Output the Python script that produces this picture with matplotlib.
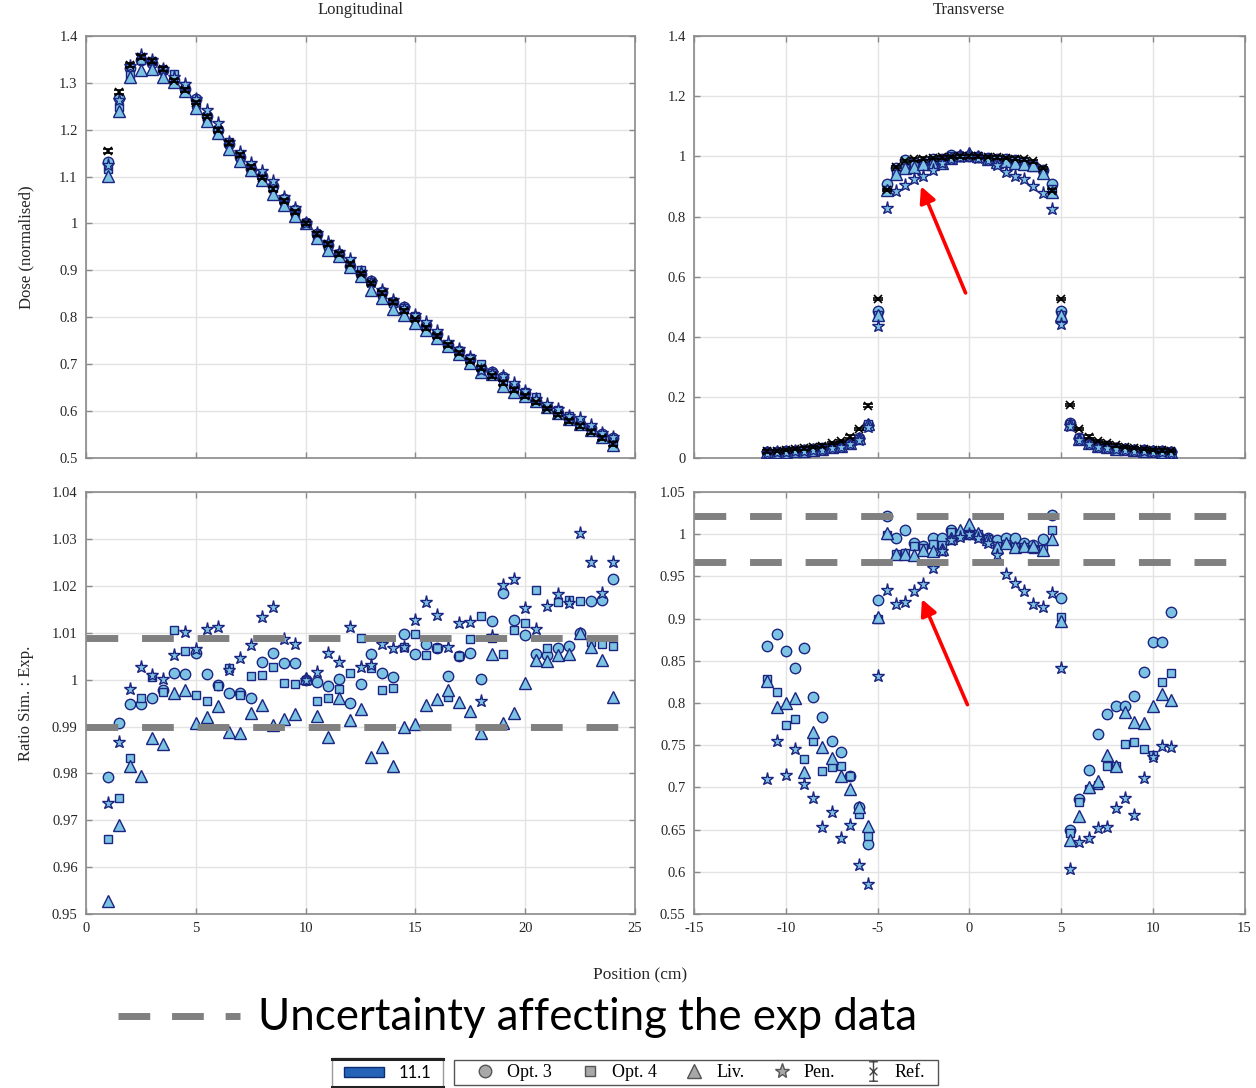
import matplotlib
matplotlib.use("Agg")
import matplotlib.pyplot as plt
import numpy as np
from matplotlib.lines import Line2D
from matplotlib.patches import Patch, Rectangle
from matplotlib.path import Path
from matplotlib.ticker import FuncFormatter, MultipleLocator

# ---------------- DATA ----------------
# Longitudinal profile
long_x = [1.0, 1.5, 2.0, 2.5, 3.0, 3.5, 4.0, 4.5, 5.0, 5.5, 6.0, 6.5, 7.0, 7.5, 8.0,
          8.5, 9.0, 9.5, 10.0, 10.5, 11.0, 11.5, 12.0, 12.5, 13.0, 13.5, 14.0, 14.5,
          15.0, 15.5, 16.0, 16.5, 17.0, 17.5, 18.0, 18.5, 19.0, 19.5, 20.0, 20.5,
          21.0, 21.5, 22.0, 22.5, 23.0, 23.5, 24.0]
long_ref = [1.155, 1.280, 1.338, 1.355, 1.347, 1.330, 1.305, 1.285, 1.258, 1.228,
            1.200, 1.172, 1.146, 1.121, 1.098, 1.073, 1.048, 1.024, 1.000, 0.977,
            0.956, 0.935, 0.914, 0.893, 0.872, 0.852, 0.832, 0.813, 0.795, 0.777,
            0.759, 0.741, 0.724, 0.707, 0.691, 0.675, 0.660, 0.645, 0.632, 0.618,
            0.605, 0.592, 0.579, 0.567, 0.555, 0.542, 0.530]
long_ratio_opt3 = [0.9793, 0.9907, 0.9948, 0.9948, 0.9961, 0.9979, 1.0015, 1.0013, 1.0056,
                   1.0013, 0.9988, 0.9972, 0.9972, 0.9961, 1.0038, 1.0058, 1.0036, 1.0036,
                   1.0000, 0.9995, 0.9986, 1.0001, 0.9951, 0.9991, 1.0054, 1.0015, 1.0006,
                   1.0097, 1.0054, 1.0077, 1.0068, 1.0008, 1.0051, 1.0056, 1.0001, 1.0126,
                   1.0185, 1.0128, 1.0095, 1.0054, 1.0053, 1.0068, 1.0072, 1.0100, 1.0168,
                   1.0171, 1.0214]
long_ratio_opt4 = [0.9661, 0.9747, 0.9834, 0.9960, 1.0005, 0.9974, 1.0107, 1.0062, 0.9967,
                   0.9954, 0.9986, 1.0024, 0.9967, 1.0008, 1.0011, 1.0027, 0.9994, 0.9990,
                   1.0000, 0.9955, 0.9961, 0.9981, 1.0015, 1.0089, 1.0025, 0.9979, 0.9983,
                   1.0070, 1.0098, 1.0052, 1.0067, 0.9963, 1.0051, 1.0086, 1.0136, 1.0090,
                   1.0054, 1.0107, 1.0120, 1.0192, 1.0067, 1.0166, 1.0171, 1.0168, 1.0081,
                   1.0077, 1.0073]
long_ratio_liv = [0.9528, 0.9691, 0.9816, 0.9795, 0.9876, 0.9863, 0.9971, 0.9978, 0.9908,
                  0.9921, 0.9944, 0.9889, 0.9887, 0.9929, 0.9946, 0.9903, 0.9917, 0.9926,
                  1.0003, 0.9923, 0.9878, 0.9960, 0.9915, 0.9937, 0.9835, 0.9857, 0.9816,
                  0.9899, 0.9905, 0.9946, 0.9958, 0.9979, 0.9953, 0.9933, 0.9887, 1.0054,
                  0.9908, 0.9929, 0.9993, 1.0043, 1.0039, 1.0053, 1.0054, 1.0100, 1.0070,
                  1.0042, 0.9963]
long_ratio_pen = [0.9737, 0.9867, 0.9981, 1.0027, 1.0010, 1.0001, 1.0052, 1.0102, 1.0065,
                  1.0108, 1.0113, 1.0020, 1.0047, 1.0074, 1.0134, 1.0155, 1.0086, 1.0077,
                  1.0000, 1.0017, 1.0056, 1.0038, 1.0113, 1.0027, 1.0032, 1.0077, 1.0067,
                  1.0070, 1.0127, 1.0165, 1.0138, 1.0070, 1.0121, 1.0123, 0.9954, 1.0093,
                  1.0202, 1.0214, 1.0154, 1.0109, 1.0157, 1.0184, 1.0164, 1.0313, 1.0251,
                  1.0185, 1.0251]

# Transverse profile
trans_x = [-11.0, -10.5, -10.0, -9.5, -9.0, -8.5, -8.0, -7.5, -7.0, -6.5, -6.0, -5.5,
           -5.0, -4.5, -4.0, -3.5, -3.0, -2.5, -2.0, -1.5, -1.0, -0.5, 0.0, 0.5, 1.0,
           1.5, 2.0, 2.5, 3.0, 3.5, 4.0, 4.5, 5.0, 5.5, 6.0, 6.5, 7.0, 7.5, 8.0, 8.5,
           9.0, 9.5, 10.0, 10.5, 11.0]
trans_ref = [0.021, 0.023, 0.025, 0.028, 0.031, 0.035, 0.040, 0.048, 0.056, 0.070, 0.095,
             0.173, 0.527, 0.889, 0.965, 0.985, 0.990, 0.993, 0.995, 0.997, 0.999, 1.000,
             1.000, 1.000, 0.999, 0.997, 0.995, 0.993, 0.990, 0.984, 0.962, 0.887, 0.527,
             0.175, 0.095, 0.070, 0.056, 0.048, 0.041, 0.036, 0.032, 0.029, 0.026, 0.024,
             0.022]
trans_ratio_opt3 = [0.867, 0.882, 0.862, 0.842, 0.865, 0.807, 0.783, 0.755, 0.742, 0.713,
                    0.677, 0.633, 0.922, 1.022, 0.995, 1.005, 0.989, 0.986, 0.996, 0.996,
                    1.005, 1.000, 1.000, 0.998, 0.996, 0.993, 0.995, 0.995, 0.990, 0.987,
                    0.994, 1.023, 0.925, 0.650, 0.686, 0.721, 0.763, 0.787, 0.796, 0.796,
                    0.808, 0.837, 0.872, 0.872, 0.908]
trans_ratio_opt4 = [0.829, 0.813, 0.774, 0.781, 0.734, 0.755, 0.719, 0.724, 0.725, 0.713,
                    0.668, 0.642, 0.900, 0.999, 0.977, 0.978, 0.986, 0.984, 0.988, 0.987,
                    1.003, 0.998, 0.999, 1.000, 0.994, 0.986, 0.988, 0.985, 0.985, 0.982,
                    0.983, 1.005, 0.902, 0.646, 0.683, 0.698, 0.703, 0.725, 0.725, 0.751,
                    0.754, 0.746, 0.738, 0.825, 0.835]
trans_ratio_liv = [0.826, 0.795, 0.800, 0.806, 0.718, 0.766, 0.748, 0.735, 0.713, 0.698,
                   0.677, 0.654, 0.902, 1.001, 0.977, 0.977, 0.975, 0.981, 0.980, 0.982,
                   0.996, 1.005, 1.012, 1.002, 0.994, 0.985, 0.990, 0.985, 0.986, 0.986,
                   0.981, 0.994, 0.897, 0.638, 0.666, 0.700, 0.707, 0.738, 0.725, 0.789,
                   0.778, 0.776, 0.796, 0.811, 0.804]
trans_ratio_pen = [0.710, 0.755, 0.715, 0.746, 0.704, 0.688, 0.653, 0.671, 0.640, 0.655,
                   0.608, 0.586, 0.832, 0.934, 0.917, 0.920, 0.933, 0.941, 0.960, 0.980,
                   0.993, 0.997, 1.000, 0.995, 0.990, 0.975, 0.953, 0.942, 0.933, 0.917,
                   0.914, 0.930, 0.841, 0.603, 0.635, 0.640, 0.652, 0.653, 0.676, 0.688,
                   0.667, 0.711, 0.736, 0.749, 0.748]

# uncertainty bands affecting the experimental data
long_unc = [1.009, 0.990]
trans_unc = [1.0215, 0.9675]

series_names = ["Opt. 3", "Opt. 4", "Liv.", "Pen.", "Ref."]
version_label = "11.1"

# ---------------- STYLE ----------------
SERIF = ["Liberation Serif", "DejaVu Serif"]
FILL = "#7cc3e3"
EDGE = "#1b2580"
GRID = "#e3e3e3"
SPINE = "#8a8a8a"
UNC = "#808080"

styles = [
    dict(marker="o", ms=7.5),
    dict(marker="s", ms=5.5),
    dict(marker="^", ms=8),
    dict(marker="*", ms=9.5),
]

fig = plt.figure(figsize=(12.56, 10.88), dpi=100)
W, H = 1256.0, 1088.0


def ax_at(left, top, right, bottom):
    return fig.add_axes([left / W, 1 - bottom / H, (right - left) / W, (bottom - top) / H])


axTL = ax_at(86, 36, 635, 457.7)
axTR = ax_at(694, 36, 1244.5, 457.7)
axBL = ax_at(86, 492.3, 635, 914)
axBR = ax_at(694, 492, 1244.5, 914)

fmt = FuncFormatter(lambda v, p: "%g" % round(v, 4))


def style_axes(ax, xlim, xstep, ylim, ystep, show_x):
    ax.set_xlim(*xlim)
    ax.set_ylim(*ylim)
    ax.xaxis.set_major_locator(MultipleLocator(xstep))
    ax.yaxis.set_major_locator(MultipleLocator(ystep))
    ax.yaxis.set_major_formatter(fmt)
    ax.xaxis.set_major_formatter(fmt)
    ax.grid(True, color=GRID, lw=1.0, zorder=0)
    ax.set_axisbelow(True)
    for s in ax.spines.values():
        s.set_color(SPINE)
        s.set_linewidth(1.2)
    ax.tick_params(direction="in", top=True, right=True, length=4, width=1,
                   color=SPINE, labelsize=10.5, labelcolor="#262626", pad=6)
    for lab in ax.get_xticklabels() + ax.get_yticklabels():
        lab.set_family(SERIF)
    if not show_x:
        ax.tick_params(labelbottom=False)


def draw_series(ax, x, ref, ratios, top, yerr):
    for st, r in zip(styles, ratios):
        y = np.array(ref) * np.array(r) if top else np.array(r)
        ax.plot(x, y, ls="none", marker=st["marker"], ms=st["ms"], mfc=FILL,
                mec=EDGE, mew=1.0, zorder=3)
    if top:
        ax.errorbar(x, ref, yerr=yerr, fmt="x", color="black", ms=6, mew=1.2,
                    elinewidth=1.0, capsize=3.5, capthick=1.2, zorder=5)


long_ratios = [long_ratio_opt3, long_ratio_opt4, long_ratio_liv, long_ratio_pen]
trans_ratios = [trans_ratio_opt3, trans_ratio_opt4, trans_ratio_liv, trans_ratio_pen]

draw_series(axTL, long_x, long_ref, long_ratios, True, 0.004)
draw_series(axTR, trans_x, trans_ref, trans_ratios, True, 0.004)
draw_series(axBL, long_x, long_ref, long_ratios, False, None)
draw_series(axBR, trans_x, trans_ref, trans_ratios, False, None)

for ax, levels in ((axBL, long_unc), (axBR, trans_unc)):
    for lv in levels:
        ax.axhline(lv, color=UNC, lw=5.0, dashes=(32 / 7.0, 24 / 7.0), zorder=6,
                   solid_capstyle="butt", dash_capstyle="butt")

style_axes(axTL, (0, 25), 5, (0.5, 1.4), 0.1, False)
style_axes(axTR, (-15, 15), 5, (0, 1.4), 0.2, False)
style_axes(axBL, (0, 25), 5, (0.95, 1.04), 0.01, True)
style_axes(axBR, (-15, 15), 5, (0.55, 1.05), 0.05, True)

axTL.set_title("Longitudinal", family=SERIF, fontsize=12, pad=16, color="#262626")
axTR.set_title("Transverse", family=SERIF, fontsize=12, pad=16, color="#262626")
axTL.set_ylabel("Dose (normalised)", family=SERIF, fontsize=12, labelpad=18, color="#262626")
axBL.set_ylabel("Ratio Sim. : Exp.", family=SERIF, fontsize=12, labelpad=13, color="#262626")

# red arrows
arrow_kw = dict(arrowstyle="-|>", color="#ff0000", lw=2.6, mutation_scale=24,
                shrinkA=0, shrinkB=0)
axTR.annotate("", xy=(-2.63, 0.901), xytext=(-0.2, 0.547), arrowprops=arrow_kw, zorder=8)
axBR.annotate("", xy=(-2.58, 0.923), xytext=(-0.1, 0.798), arrowprops=arrow_kw, zorder=8)

# figure texts
fig.text(640 / W, 1 - 975 / H, "Position (cm)", family=SERIF, fontsize=12.5,
         ha="center", va="center", color="#262626")
fig.add_artist(Line2D([118 / W, 240 / W], [1 - 1016 / H, 1 - 1016 / H],
                      transform=fig.transFigure, color=UNC, lw=5.0,
                      dashes=(32 / 7.0, 22 / 7.0), dash_capstyle="butt"))
fig.text(258 / W, 1 - 1017 / H, "Uncertainty affecting the exp data",
         family=["Lato", "DejaVu Sans"], fontsize=31.5, ha="left", va="center", color="black")

# legend box 1 (version)
fig.add_artist(Rectangle((332 / W, 1 - 1087 / H), (443 - 332) / W, (1087 - 1058) / H,
                         transform=fig.transFigure, fill=False, ec="#9a9a9a", lw=1.0))
for yy in (1058.5, 1086.5):
    fig.add_artist(Line2D([332 / W, 443 / W], [1 - yy / H, 1 - yy / H],
                          transform=fig.transFigure, color="#222222", lw=2.2))
h1 = [Patch(facecolor="#2463b8", edgecolor="#0f2d6e", lw=1.0)]
fig.legend(h1, [version_label], loc="center", bbox_to_anchor=(387.5 / W, 1 - 1072.5 / H),
           frameon=False, prop=dict(family=["Lato", "DejaVu Sans"], size=12),
           handlelength=2.4, handleheight=0.55, handletextpad=0.9, borderpad=0)

# legend box 2 (series)
fig.add_artist(Rectangle((454 / W, 1 - 1085 / H), (938 - 454) / W, (1085 - 1060) / H,
                         transform=fig.transFigure, fill=False, ec="#555555", lw=1.0))
GF, GE = "#a8a8a8", "#555555"
legend_ms = [9, 7, 10, 11]
h2 = [Line2D([], [], ls="none", marker=st["marker"], ms=m, mfc=GF, mec=GE, mew=1.0)
      for st, m in zip(styles, legend_ms)]
ref_marker = Path([(-0.45, 1), (0.45, 1), (0, 1), (0, -1), (-0.45, -1), (0.45, -1),
                   (-0.4, -0.4), (0.4, 0.4), (-0.4, 0.4), (0.4, -0.4)],
                  [Path.MOVETO, Path.LINETO, Path.MOVETO, Path.LINETO, Path.MOVETO,
                   Path.LINETO, Path.MOVETO, Path.LINETO, Path.MOVETO, Path.LINETO])
h2.append(Line2D([], [], ls="none", marker=ref_marker, ms=14, mfc="none",
                 mec="#444444", mew=1.0))
fig.legend(h2, series_names, loc="center", bbox_to_anchor=(700 / W, 1 - 1072.5 / H),
           frameon=False, ncol=5, prop=dict(family=SERIF, size=13),
           handlelength=1.2, handletextpad=0.6, columnspacing=1.5, borderpad=0)

fig.savefig("out.png", dpi=100)
